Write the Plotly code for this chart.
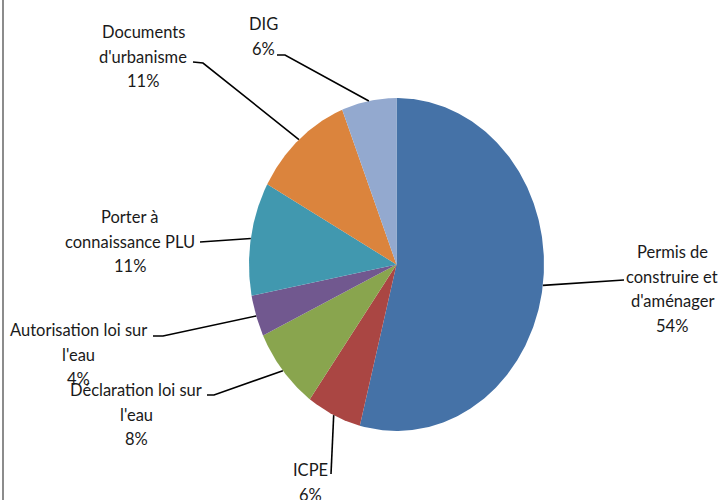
import numpy as np
import plotly.graph_objects as go

# ---- data ----
categories = ["Permis de construire et d'aménager", "ICPE", "Déclaration loi sur l'eau",
              "Autorisation loi sur l'eau", "Porter à connaissance PLU",
              "Documents d'urbanisme", "DIG"]
values = [54, 6, 8, 4, 11, 11, 6]
label_text = [["Permis de", "construire et", "d'aménager"],
              ["ICPE"],
              ["Déclaration loi sur", "l'eau"],
              ["Autorisation loi sur", "l'eau"],
              ["Porter à", "connaissance PLU"],
              ["Documents", "d'urbanisme"],
              ["DIG"]]
colors = ["#4572A7", "#AA4643", "#89A54E", "#71588F", "#4198AF", "#DB843D", "#93A9CF"]

# ---- layout (pixels in a 720x500 canvas) ----
W, H = 720, 500
CX, CY, RX, RY = 396.5, 264.5, 147.5, 166.5
label_pos = [(672, 252), (310, 470), (136, 390), (78, 330), (130, 217), (143, 32), (263, 24)]
leader_pts = [[(620, 280), (624, 280)],
              [(331, 474)],
              [(214, 395), (207, 395)],
              [(163, 336), (153, 336)],
              [(200, 242)],
              [(203, 63), (193, 62)],
              [(285, 55), (277, 55)]]
LINE_H = 24.5
FONT = dict(family="Lato, Open Sans, sans-serif", size=16.5, color="#1a1a1a")


def px2u(px):
    return (px - CX) / RX


def py2v(py):
    return (CY - py) / RY


fig = go.Figure()
total = sum(values)
cum = 0.0
for i, v in enumerate(values):
    a0 = cum / total * 2 * np.pi
    a1 = (cum + v) / total * 2 * np.pi
    cum += v
    n = max(3, int(v / total * 600))
    th = np.linspace(a0, a1, n)
    xs = np.concatenate([[0], np.sin(th), [0]])
    ys = np.concatenate([[0], np.cos(th), [0]])
    fig.add_trace(go.Scatter(x=xs, y=ys, mode="lines", fill="toself",
                             fillcolor=colors[i], line=dict(width=0, color=colors[i]),
                             name=categories[i], hoverinfo="name", showlegend=False))
    # leader line from slice mid-angle edge to label
    am = (a0 + a1) / 2
    lx = [np.sin(am)] + [px2u(p[0]) for p in leader_pts[i]]
    ly = [np.cos(am)] + [py2v(p[1]) for p in leader_pts[i]]
    fig.add_trace(go.Scatter(x=lx, y=ly, mode="lines", line=dict(color="#000000", width=1.6),
                             hoverinfo="skip", showlegend=False))
    # label text, one annotation per line
    pct = f"{round(v / total * 100)}%"
    lines = label_text[i] + [pct]
    x0, y0 = label_pos[i]
    for k, t in enumerate(lines):
        fig.add_annotation(x=px2u(x0), y=py2v(y0 + k * LINE_H), text=t, showarrow=False,
                           xanchor="center", yanchor="middle", font=FONT)

fig.add_shape(type="line", xref="paper", yref="paper", x0=3 / W, x1=3 / W, y0=0, y1=1,
              line=dict(color="#8c8c8c", width=2))

fig.update_layout(
    width=W, height=H, margin=dict(l=0, r=0, t=0, b=0),
    paper_bgcolor="white", plot_bgcolor="white",
    xaxis=dict(range=[px2u(0), px2u(W)], visible=False, fixedrange=True),
    yaxis=dict(range=[py2v(H), py2v(0)], visible=False, fixedrange=True),
)
fig.write_html("out.html", config={"displayModeBar": False},
               post_script="document.body.style.margin='0px';")
